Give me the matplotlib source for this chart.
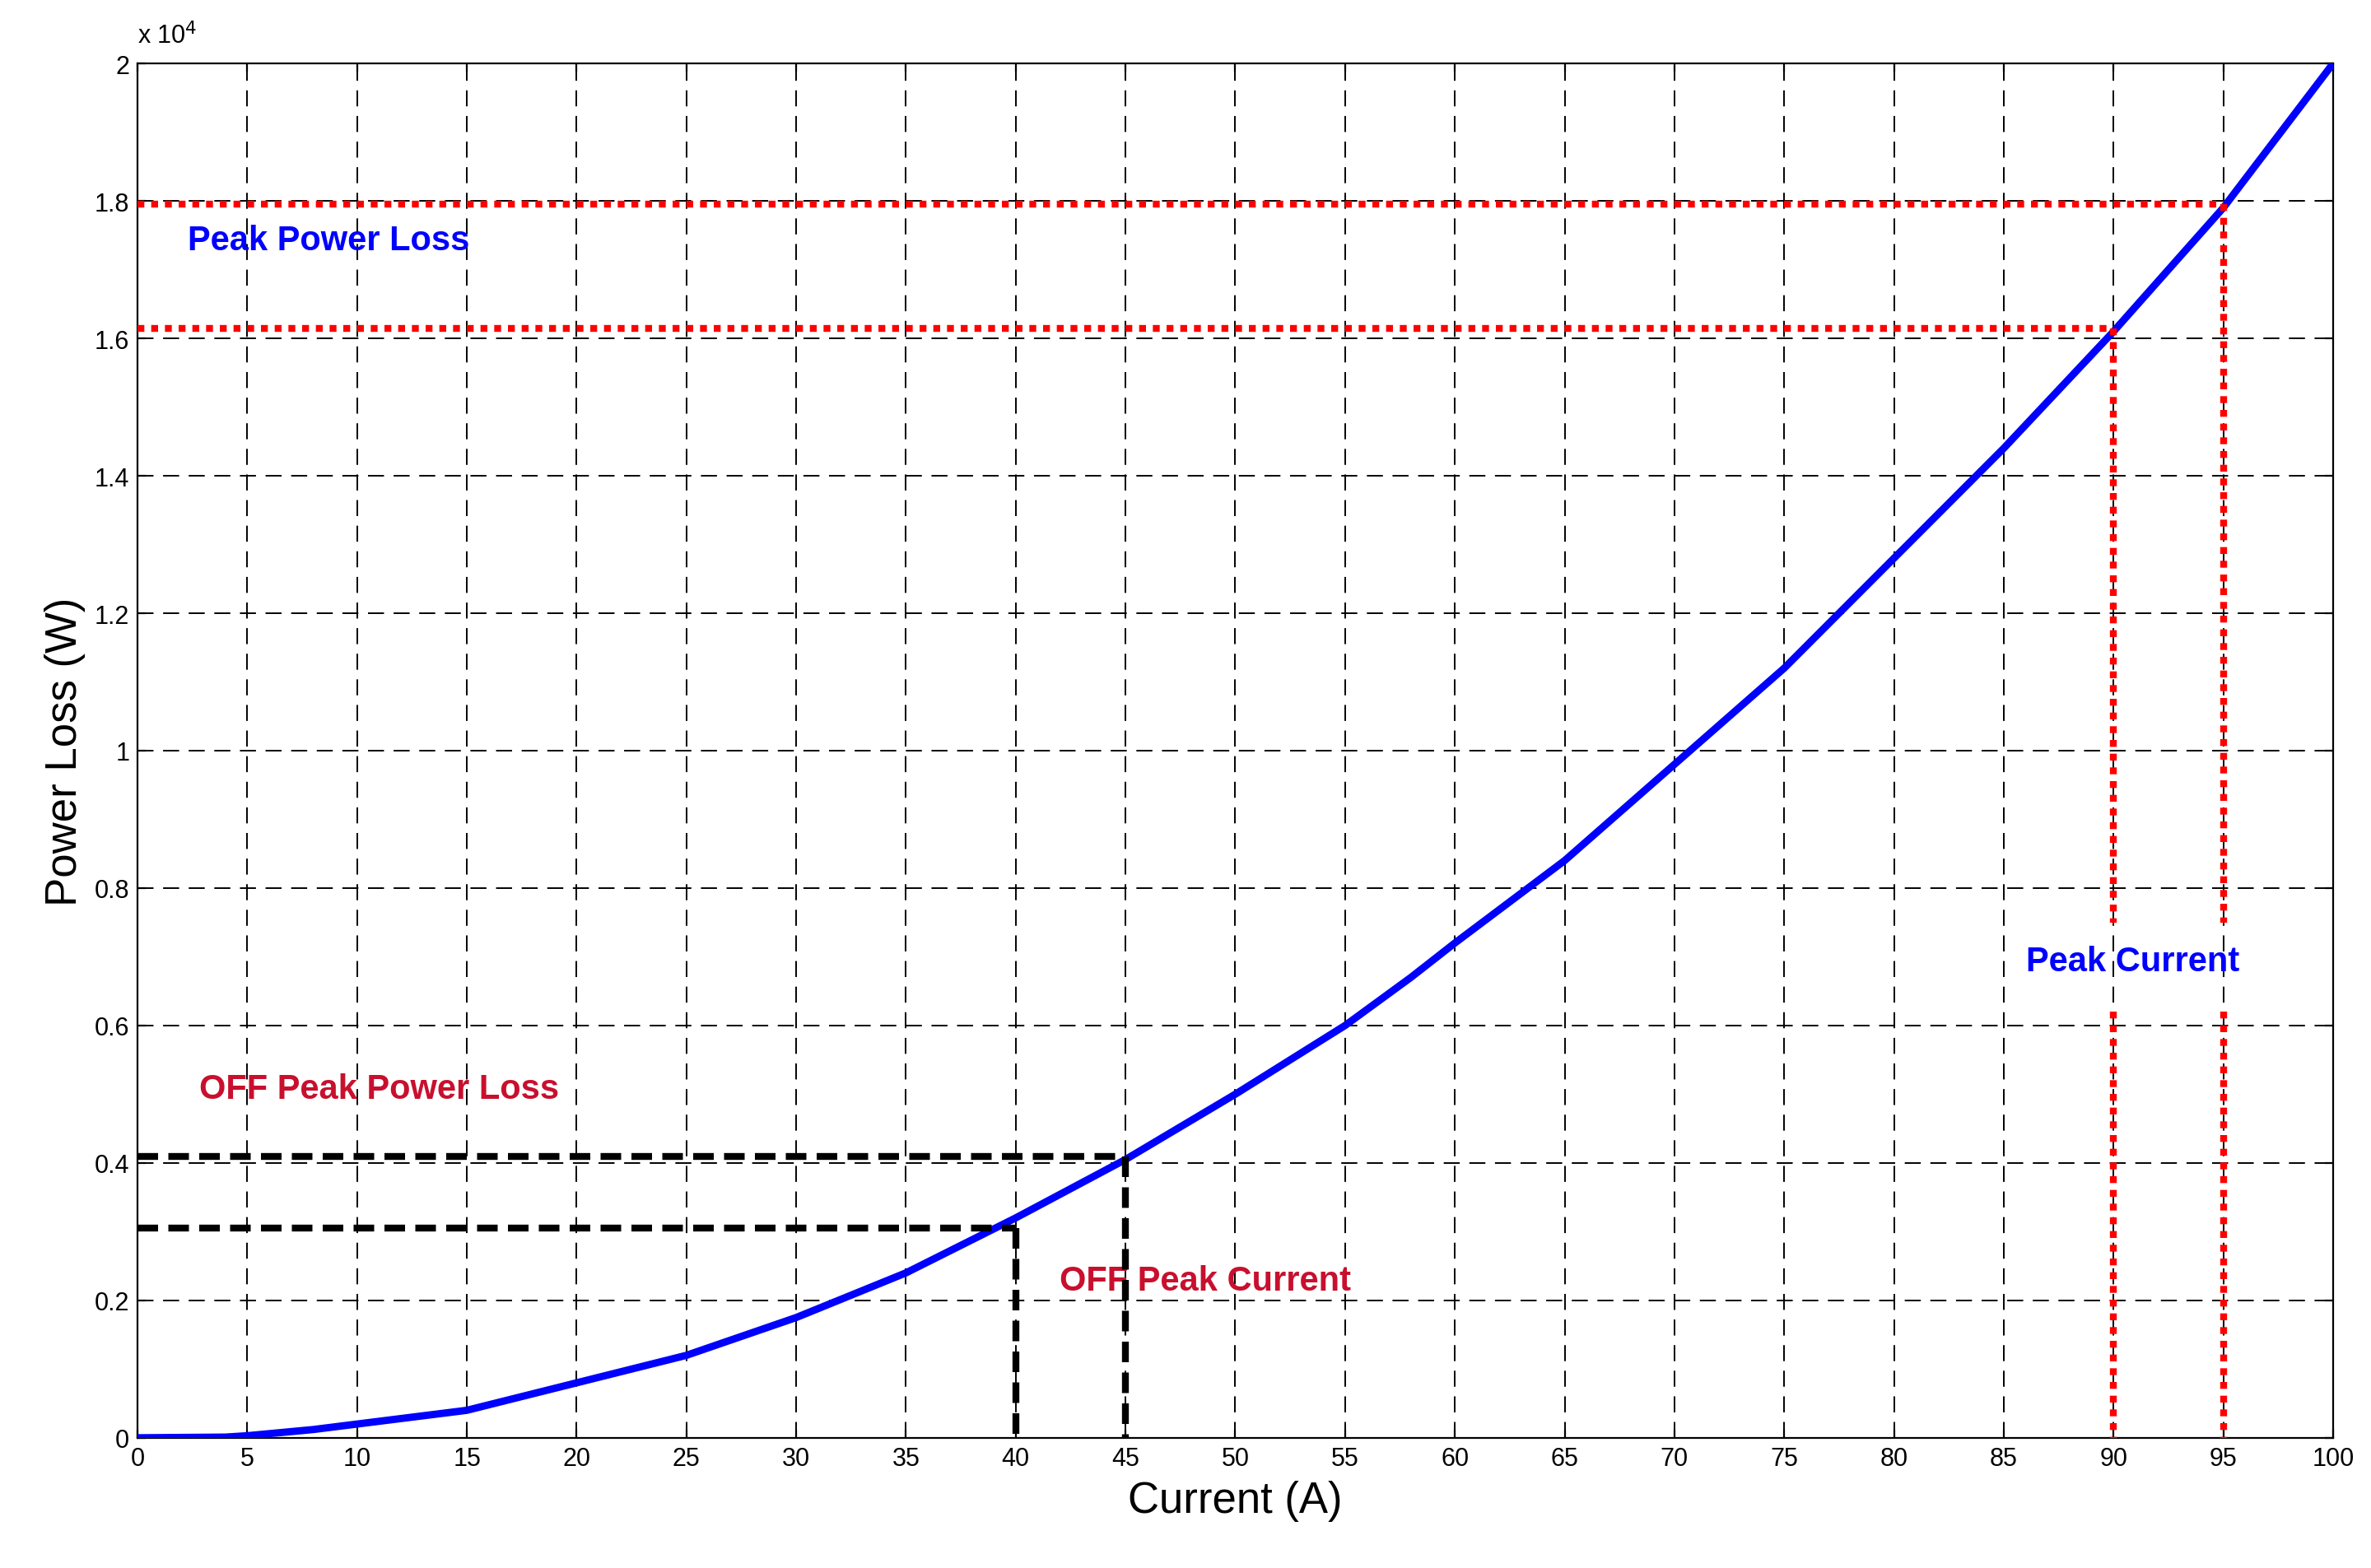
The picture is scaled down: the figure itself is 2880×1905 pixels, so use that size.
import matplotlib
matplotlib.use("Agg")
import matplotlib.pyplot as plt

plt.rcParams["font.family"] = ["Liberation Sans", "DejaVu Sans"]

current = [0, 4, 5, 8, 10, 15, 20, 25, 30, 35, 40, 45, 50, 55, 58, 60, 65, 70, 75, 80, 85, 90, 95, 100]
power = [0, 10, 30, 120, 200, 400, 800, 1200, 1750, 2400, 3200, 4050, 5000, 6000, 6700, 7200, 8400, 9800, 11200, 12800, 14400, 16100, 17900, 20000]

peak_x = [90, 95]
peak_y = [16150, 17950]
off_x = [40, 45]
off_y = [3050, 4100]

fig = plt.figure(figsize=(14.4, 9.53), dpi=200)
ax = fig.add_axes([0.058, 0.083, 0.926, 0.876])

ax.plot(current, power, color="#0000ff", lw=3.2, zorder=3)

for x, y in zip(peak_x, peak_y):
    ax.plot([0, x], [y, y], color="red", lw=3, ls=(0, (1, 1)), zorder=4)
    ax.plot([x, x], [y, 7500], color="red", lw=3, ls=(0, (1, 1)), zorder=4)
    ax.plot([x, x], [6200, 0], color="red", lw=3, ls=(0, (1, 1)), zorder=4)

for x, y in zip(off_x, off_y):
    ax.plot([0, x], [y, y], color="black", lw=3, ls=(0, (3, 1.5)), zorder=4)
    ax.plot([x, x], [y, 0], color="black", lw=3, ls=(0, (3, 1.5)), zorder=4)

ax.text(2.3, 17300, "Peak Power Loss", color="#0000ff", fontsize=15, fontweight="bold")
ax.text(86.0, 6800, "Peak Current", color="#0000ff", fontsize=15, fontweight="bold")
ax.text(2.8, 4950, "OFF Peak Power Loss", color="#c8102e", fontsize=15, fontweight="bold")
ax.text(42, 2150, "OFF Peak Current", color="#c8102e", fontsize=15, fontweight="bold")

ax.set_xlim(0, 100)
ax.set_ylim(0, 20000)
ax.set_xticks(range(0, 101, 5))
yt = [i * 2000 for i in range(11)]
ax.set_yticks(yt)
ax.set_yticklabels(["0", "0.2", "0.4", "0.6", "0.8", "1", "1.2", "1.4", "1.6", "1.8", "2"])
ax.tick_params(direction="in", labelsize=11, top=True, right=True)
ax.grid(True, color="black", ls=(0, (10, 6)), lw=0.7)
ax.text(0, 20300, r"x 10$^{4}$", fontsize=11)

ax.set_xlabel("Current (A)", fontsize=19)
ax.set_ylabel("Power Loss (W)", fontsize=19)

fig.savefig("out.png", dpi=200)
